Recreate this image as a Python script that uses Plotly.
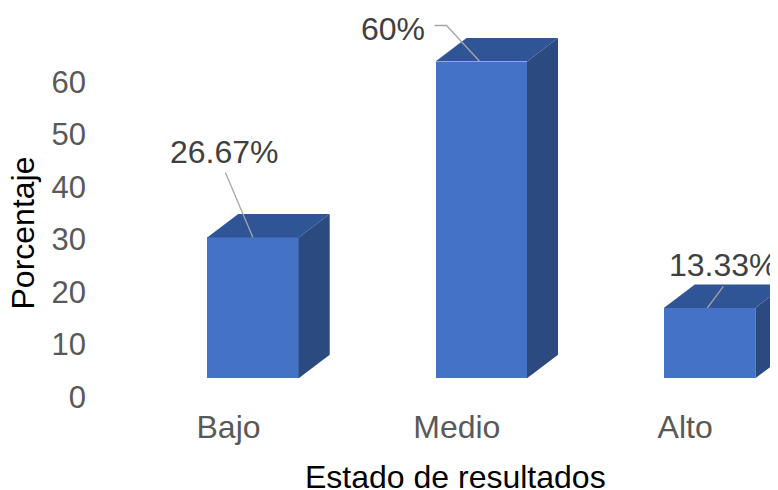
import plotly.graph_objects as go

# ---- data ----
categories = ["Bajo", "Medio", "Alto"]
percentages = [26.67, 60, 13.33]
label_texts = ["26.67%", "60%", "13.33%"]
y_ticks = [0, 10, 20, 30, 40, 50, 60]
x_title = "Estado de resultados"
y_title = "Porcentaje"

# ---- style / layout constants ----
PAGE_OFF = 8            # default body margin of the html page
W, H = 778 - PAGE_OFF, 490 - PAGE_OFF
ML, MR, MT, MB = 82, 0, 0, 85
plot_w = W - ML - MR
plot_h = H - MT - MB
plot_bottom = H - MB

FONT = "Liberation Sans, Arial, sans-serif"
FRONT = "#4472C4"
TOP = "#2F5597"
SIDE = "#2A4A80"
LEADER = "#A6A6A6"

cat0_px = 228.5 - PAGE_OFF
cat_step = 228.3
x0 = -(cat0_px - ML) / cat_step
x1 = x0 + plot_w / cat_step

ypx_per = 5.25
y_zero_px = 396.7 - PAGE_OFF
ya0 = -(plot_bottom - y_zero_px) / ypx_per
ya1 = ya0 + plot_h / ypx_per

y2px_per = 5.28
y2_zero_px = 378.3 - PAGE_OFF
yb0 = -(plot_bottom - y2_zero_px) / y2px_per
yb1 = yb0 + plot_h / y2px_per

bar_w = 91.5 / cat_step
bar_off = -21.3 / cat_step
depth_x = 31 / cat_step
depth_y = 23.5 / y2px_per

# label placement (pixel offsets from the bar top centre), like Excel's moved labels
label_shift = [(-28, 85), (-88, 33), (14, 43)]
leader_paths = ["M -27.5,64.7 L 0,0", "M -46.7,36 L -34.7,36 L -1.5,0", "M 13.8,21.6 L -2.2,0"]

# axis-title centres in screen pixels
xt_cx, xt_cy = 455.7, 477.0
yt_cx, yt_cy = 22.5, 233.0


def paper_x(px):
    return (px - PAGE_OFF - ML) / plot_w


def paper_y(py):
    return (plot_bottom - (py - PAGE_OFF)) / plot_h


xs = list(range(len(categories)))

fig = go.Figure()
# invisible trace so the labelled y axis is drawn
fig.add_trace(go.Scatter(x=[None], y=[None], xaxis="x", yaxis="y",
                         showlegend=False, hoverinfo="skip"))
fig.add_trace(go.Bar(
    x=xs, y=percentages, width=bar_w, offset=bar_off,
    marker=dict(color=FRONT, line=dict(width=0)),
    xaxis="x", yaxis="y2", hoverinfo="skip", showlegend=False,
))

for i, v in zip(xs, percentages):
    xl = i + bar_off
    xr = xl + bar_w
    fig.add_trace(go.Scatter(
        x=[xl, xl + depth_x, xr + depth_x, xr, xl],
        y=[v, v + depth_y, v + depth_y, v, v],
        mode="lines", fill="toself", fillcolor=TOP, line=dict(width=0),
        xaxis="x", yaxis="y2", hoverinfo="skip", showlegend=False,
    ))
    fig.add_trace(go.Scatter(
        x=[xr, xr + depth_x, xr + depth_x, xr, xr],
        y=[0, depth_y, v + depth_y, v, 0],
        mode="lines", fill="toself", fillcolor=SIDE, line=dict(width=0),
        xaxis="x", yaxis="y2", hoverinfo="skip", showlegend=False,
    ))

for i, v, txt, (dx, dy), p in zip(xs, percentages, label_texts, label_shift, leader_paths):
    xc = i + bar_off + bar_w / 2
    fig.add_shape(type="path", xref="x", yref="y2",
                  xsizemode="pixel", ysizemode="pixel",
                  xanchor=xc, yanchor=v, path=p,
                  line=dict(color=LEADER, width=1.3))
    fig.add_annotation(x=xc, y=v, xref="x", yref="y2", text=txt,
                       showarrow=False, xshift=dx, yshift=dy,
                       font=dict(family=FONT, size=32, color="#404040"))

# axis titles
fig.add_annotation(x=paper_x(xt_cx), y=paper_y(xt_cy), xref="paper", yref="paper",
                   text=x_title, showarrow=False, xanchor="center", yanchor="middle",
                   font=dict(family=FONT, size=32, color="#000000"))
fig.add_annotation(x=paper_x(yt_cx), y=paper_y(yt_cy), xref="paper", yref="paper",
                   text=y_title, showarrow=False, xanchor="center", yanchor="middle",
                   textangle=-90, font=dict(family=FONT, size=32, color="#000000"))

fig.update_layout(
    width=W, height=H,
    margin=dict(l=ML, r=MR, t=MT, b=MB, pad=0, autoexpand=False),
    paper_bgcolor="white", plot_bgcolor="white",
    font=dict(family=FONT),
    xaxis=dict(
        range=[x0, x1], tickvals=xs, ticktext=categories,
        showgrid=False, zeroline=False, showline=False, ticks="",
        tickfont=dict(size=32, color="#595959"),
        automargin=False,
    ),
    yaxis=dict(
        range=[ya0, ya1], tickvals=y_ticks,
        showgrid=False, zeroline=False, showline=False, ticks="",
        tickfont=dict(size=31, color="#595959"),
        ticklabelstandoff=3,
        automargin=False,
    ),
    yaxis2=dict(range=[yb0, yb1], overlaying="y", visible=False),
    bargap=0,
)

fig.write_html("out.html")
